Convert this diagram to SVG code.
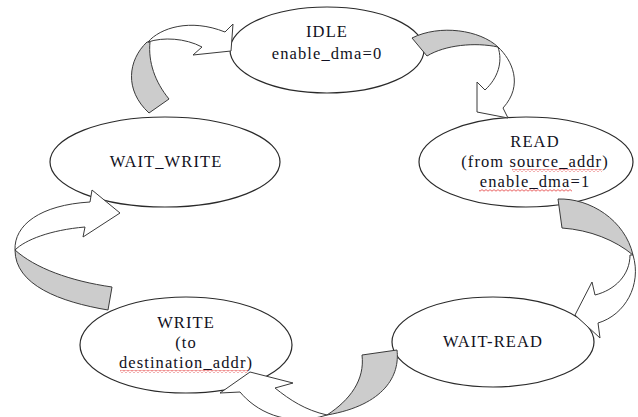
<svg xmlns="http://www.w3.org/2000/svg" width="638" height="417" viewBox="0 0 638 417">
<defs>
<pattern id="sq" width="4" height="3" patternUnits="userSpaceOnUse"><path d="M0,2.2 L2,0.6 L4,2.2" fill="none" stroke="#e23a3a" stroke-width="0.8"/></pattern>
<style>
.node ellipse{fill:#fff;stroke:#2a2a2a;stroke-width:1.2}
.node text{font-family:"Liberation Serif","Times New Roman",serif;font-size:16.5px;letter-spacing:1.1px;fill:#111122;text-anchor:middle}
.sh{fill:#cccccc;stroke:#3a3a3a;stroke-width:1;stroke-linejoin:round}
.fr{fill:#fff;stroke:#3a3a3a;stroke-width:1;stroke-linejoin:miter}
.sq{fill:url(#sq)}
</style>
</defs>
<rect width="638" height="417" fill="#fff"/>
<g id="idle" class="node">
<ellipse cx="327" cy="50" rx="97" ry="43"/>
<text x="327" y="37">IDLE</text>
<text x="327" y="59">enable_dma=0</text>
</g>
<g id="read" class="node">
<ellipse cx="526" cy="162" rx="107" ry="45"/>
<text x="535" y="147">READ</text>
<text x="535" y="167">(from source_addr)</text>
<text x="535" y="187">enable_dma=1</text>
<rect class="sq" x="512" y="169" width="90" height="3"/>
<rect class="sq" x="479" y="189" width="93" height="3"/>
</g>
<g id="wait_read" class="node">
<ellipse cx="493" cy="342" rx="101" ry="45"/>
<text x="493" y="347">WAIT-READ</text>
</g>
<g id="write" class="node">
<ellipse cx="186" cy="345" rx="106" ry="48"/>
<text x="186" y="328">WRITE</text>
<text x="186" y="348">(to</text>
<text x="186" y="368">destination_addr)</text>
<rect class="sq" x="120" y="370" width="128" height="3"/>
</g>
<g id="wait_write" class="node">
<ellipse cx="165" cy="162" rx="115" ry="45"/>
<text x="166" y="167">WAIT_WRITE</text>
</g>
<g id="connectors">
<g id="ww_to_idle">
<path class="sh" d="M147,42 C128,60 124,90 149,113 L169,99 C155,82 148,62 150,42 Z"/>
<path class="fr" d="M148,42 C160,28 190,18 225,32 L233,24 L231,51 L193,55 L202,47 C185,38 163,37 148,42 Z"/>
</g>
<g id="idle_to_read">
<path class="sh" d="M412,38 C440,24 480,30 498,47 C475,42 445,45 427,56 Z"/>
<path class="fr" d="M498,47 C512,60 524,85 503,108 L508,118 L477,112 L477,82 L485,90 C498,78 503,62 498,47 Z"/>
</g>
<g id="read_to_wr">
<path class="sh" d="M558,199 C590,198 625,220 633,255 C615,240 590,230 562,228 Z"/>
<path class="fr" d="M630,255 C630,275 615,290 595,295 L592,282 L575,315 L600,338 L598,323 C625,315 642,285 633,255 Z"/>
</g>
<g id="wr_to_write">
<path class="sh" d="M362,355 L397,350 C400,375 385,405 327,415 C350,400 365,380 362,355 Z"/>
<path class="fr" d="M327,415 C305,410 290,400 275,388 L293,383 L250,372 L220,393 L240,392 C255,410 285,428 327,415 Z"/>
</g>
<g id="write_to_ww">
<path class="sh" d="M112,287 L108,310 C60,302 15,285 15,250 C35,268 70,281 112,287 Z"/>
<path class="fr" d="M15,250 C14,225 40,205 90,202 L92,190 L120,213 L83,237 L85,227 C50,230 25,240 15,250 Z"/>
</g>
</g>
</svg>
